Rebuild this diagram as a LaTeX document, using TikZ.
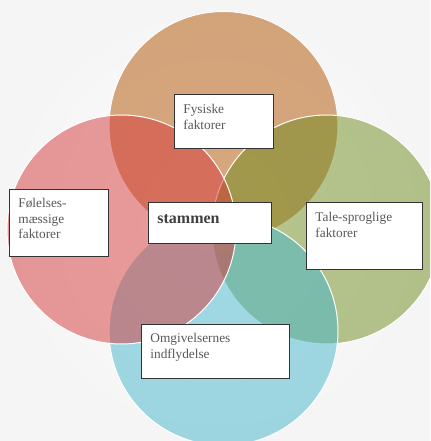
\documentclass[tikz,border=0pt]{standalone}
\usepackage{fontspec}
\setmainfont{Liberation Serif}

\definecolor{fysC}{RGB}{177,81,0}
\definecolor{taleC}{RGB}{111,139,29}
\definecolor{omgC}{RGB}{69,183,205}
\definecolor{folC}{RGB}{213,55,57}

\begin{document}
\begin{tikzpicture}[x=0.75pt,y=-0.75pt,
    circ/.style={circle, draw=white, line width=0.75pt, fill opacity=0.5,
                 minimum size=171.75pt, inner sep=0pt},
    box/.style={draw=black!80, line width=0.6pt, fill=white, anchor=north west,
                align=left, inner xsep=6.75pt, inner ysep=0pt, text=black!65,
                font=\fontsize{10pt}{11.8pt}\selectfont}]

  \useasboundingbox (0,0) rectangle (430,441);
  \clip (0,0) rectangle (430,441);
  \shade[inner color=white, outer color=black!4] (0,0) rectangle (430,441);

  % the four circles
  \node[circ, fill=fysC]  (fys c)  at (223.5,126) {};
  \node[circ, fill=taleC] (tale c) at (326.5,229.5) {};
  \node[circ, fill=omgC]  (omg c)  at (223.5,331) {};
  \node[circ, fill=folC]  (fol c)  at (121.5,229.5) {};

  % labels
  \node[box, text width=60.75pt, text height=14.25pt, text depth=26.25pt] (fys) at (174,94) {Fysiske\\faktorer};
  \node[box, text width=60.75pt, text height=13.5pt, text depth=36.75pt] (fol) at (9,189) {Følelses-\\mæssige\\faktorer};
  \node[box, text width=78.75pt, text height=15.75pt, text depth=15pt, text=black!75,
        font=\fontsize{12pt}{14pt}\selectfont\bfseries] (stam) at (148,202) {stammen};
  \node[box, text width=73.5pt, text height=14.25pt, text depth=36pt] (tale) at (306,202) {Tale-sproglige\\faktorer};
  \node[box, text width=97.5pt, text height=13.5pt, text depth=27pt] (omg) at (141,324) {Omgivelsernes\\indflydelse};
\end{tikzpicture}
\end{document}
